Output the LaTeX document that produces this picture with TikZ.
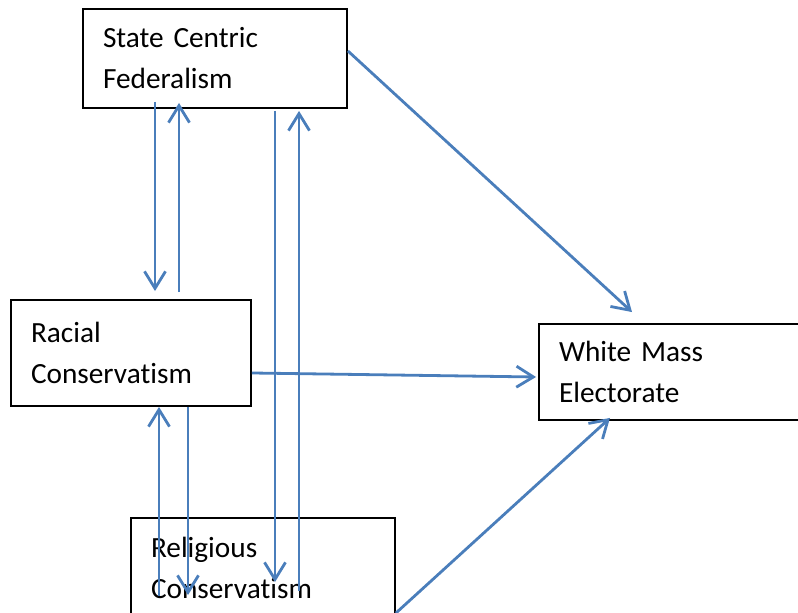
\documentclass[tikz,border=0pt]{standalone}
\usepackage{fontspec}
\setmainfont{Carlito}[Ligatures=NoCommon]
\usetikzlibrary{arrows.meta}
\definecolor{linkblue}{HTML}{4A7EBB}

\begin{document}
\begin{tikzpicture}[x=1pt,y=1pt,font=\fontsize{29.3}{41}\selectfont,
  box/.style={draw=black,line width=1.9pt,fill=white,align=left,inner xsep=20pt,inner ysep=0pt},
  link/.style={draw=linkblue,line width=2.8pt},
  >={Straight Barb[length=17pt,width=21pt]}]
\clip (0,0) rectangle (798,613);
\node[box,text width=224pt,minimum height=99pt] (scf) at (215,554.5) {State Centric\\Federalism};
\node[box,text width=200pt,minimum height=106pt] (race) at (131,260) {Racial\\Conservatism};
\node[box,text width=224pt,minimum height=99pt] (relig) at (263,45.5) {Religious\\Conservatism};
\node[box,text width=224pt,minimum height=96pt] (white) at (671,241) {White Mass\\Electorate};
\draw[link,->] ([xshift=-60pt,yshift=7pt]scf.south)--([xshift=24pt,yshift=8pt]race.north);
\draw[link,->] ([xshift=48pt,yshift=7pt]race.north)--([xshift=-36pt,yshift=6pt]scf.south);
\draw[link,->] ([xshift=60pt,yshift=-2pt]scf.south)--([xshift=12pt,yshift=-65pt]relig.north);
\draw[link,->] ([xshift=36pt,yshift=-74pt]relig.north)--([xshift=84pt,yshift=-2pt]scf.south);
\draw[link,->] ([yshift=7.5pt]scf.east)--([xshift=-39pt,yshift=11pt]white.north);
\draw[link,->] ([yshift=-20pt]race.east)--([xshift=-2pt,yshift=-5pt]white.west);
\draw[link,->] ([yshift=-45.5pt]relig.east)--([xshift=-61pt,yshift=3pt]white.south);
\draw[link,->] ([xshift=-104pt,yshift=-79pt]relig.north)--([xshift=28pt]race.south);
\draw[link,->] ([xshift=57pt]race.south)--([xshift=-75pt,yshift=-78pt]relig.north);
\end{tikzpicture}
\end{document}
